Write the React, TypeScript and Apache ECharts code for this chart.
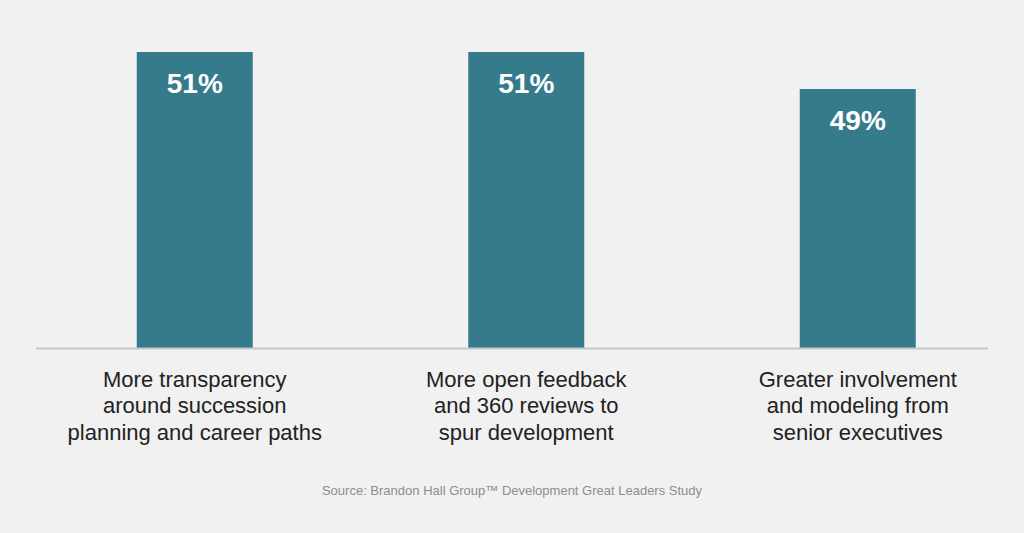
import React, { useEffect, useRef } from "react";
import * as echarts from "echarts";

const categories = [
  "More transparency\naround succession\nplanning and career paths",
  "More open feedback\nand 360 reviews to\nspur development",
  "Greater involvement\nand modeling from\nsenior executives",
];
const values = [51, 51, 49];
const sourceText = "Source: Brandon Hall Group\u2122 Development Great Leaders Study";

export default function App() {
  const ref = useRef<HTMLDivElement>(null);
  useEffect(() => {
    if (!ref.current) return;
    const chart = echarts.init(ref.current, null, { renderer: "svg" });
    chart.setOption({
      animation: false,
      backgroundColor: "#f0f1f0",
      grid: { left: 29, width: 994.5, top: 52, bottom: 185, containLabel: false },
      xAxis: {
        type: "category",
        data: categories,
        axisLine: { show: false },
        axisTick: { show: false },
        axisLabel: {
          color: "#222222",
          fontSize: 22,
          lineHeight: 26.5,
          margin: 18,
          fontFamily: "Liberation Sans, Arial, sans-serif",
          interval: 0,
        },
      },
      yAxis: {
        type: "value",
        min: 35,
        max: 51,
        show: false,
        splitLine: { show: false },
      },
      series: [
        {
          type: "bar",
          data: values,
          barWidth: 116,
          itemStyle: { color: "#367b8c" },
          label: {
            show: true,
            position: "insideTop",
            distance: 17,
            formatter: "{c}%",
            color: "#ffffff",
            fontSize: 28,
            fontWeight: "bold",
            fontFamily: "Liberation Sans, Arial, sans-serif",
          },
        },
      ],
      graphic: [
        {
          type: "line",
          shape: { x1: 36, y1: 348.5, x2: 988, y2: 348.5 },
          style: { stroke: "#c3c9ca", lineWidth: 2 },
          z: 10,
        },
        {
          type: "text",
          x: 512,
          y: 490,
          style: {
            text: sourceText,
            fill: "#8a8f90",
            fontSize: 13,
            fontFamily: "Liberation Sans, Arial, sans-serif",
            align: "center",
            verticalAlign: "middle",
          },
        },
      ],
    });
    return () => chart.dispose();
  }, []);
  return (
    <div
      ref={ref}
      style={{ position: "fixed", left: 0, top: 0, width: 1024, height: 533 }}
    />
  );
}
